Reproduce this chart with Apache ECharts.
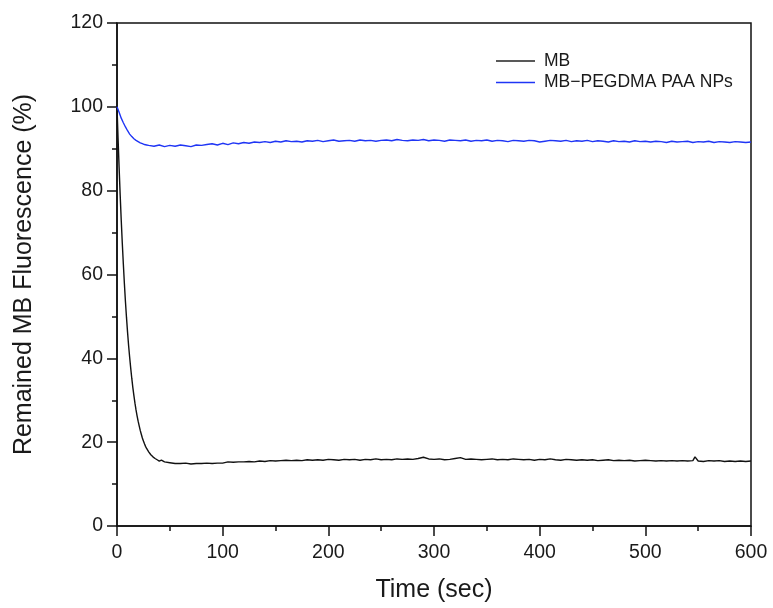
<!DOCTYPE html>
<html>
<head>
<meta charset="utf-8">
<script src="https://cdn.jsdelivr.net/npm/echarts@6/dist/echarts.min.js"></script>
<style>
html,body{margin:0;padding:0;background:#fff;}
#chart{width:773px;height:608px;}
</style>
</head>
<body>
<div id="chart"></div>
<script>
// ---- Data ----
const seriesNames = ['MB', 'MB\u2212PEGDMA PAA NPs'];
const xTicks = [0, 100, 200, 300, 400, 500, 600];
const yTicks = [0, 20, 40, 60, 80, 100, 120];

// MB: time (sec) and remained fluorescence (%)
const mbTime = [0,1,2,3,4,5,6,7,8,9,10,11,12,13,14,15,16,17,18,19,20,21,22,23,24,25,26,27,28,29,30,31,32,33,34,35,36,37,38,39,40,42,43,45,50,55,60,65,70,75,80,85,90,95,100,105,110,115,120,125,130,135,140,145,150,155,160,165,170,175,180,185,190,195,200,205,210,215,220,225,230,235,240,245,250,255,260,265,270,275,280,285,290,295,300,305,310,315,320,325,330,335,340,345,350,355,360,365,370,375,380,385,390,395,400,405,410,415,420,425,430,435,440,445,450,455,460,465,470,475,480,485,490,495,500,505,510,515,520,525,530,535,540,545,547,550,555,560,565,570,575,580,585,590,595,600];
const mbValue = [100,92.5,85.5,79,73,67.5,62.5,57.8,53.5,49.7,46.2,43,40.2,37.6,35.2,33,31.1,29.3,27.7,26.3,25,23.9,22.8,21.9,21,20.3,19.6,19,18.5,18.1,17.7,17.3,17,16.7,16.5,16.2,16.1,15.9,15.8,15.8,15.5,15.7,15.4,15.3,15.1,14.9,14.9,15.0,14.8,14.9,14.9,15.0,14.9,15.0,15.0,15.3,15.2,15.3,15.3,15.4,15.3,15.5,15.4,15.6,15.5,15.6,15.7,15.6,15.7,15.6,15.8,15.7,15.8,15.7,15.9,15.8,15.7,15.9,15.8,15.9,15.7,15.9,15.8,16.0,15.8,15.9,15.8,16.0,15.9,16.0,15.9,16.1,16.4,16.0,15.9,16.0,15.8,15.9,16.1,16.3,15.9,16.0,15.9,15.8,15.9,16.0,15.8,15.9,15.8,16.0,15.9,15.8,15.9,15.7,15.9,15.8,16.0,15.8,15.7,15.9,15.8,15.7,15.8,15.7,15.8,15.6,15.7,15.8,15.6,15.7,15.6,15.7,15.5,15.6,15.7,15.6,15.5,15.6,15.5,15.6,15.5,15.6,15.5,15.6,16.5,15.5,15.4,15.6,15.5,15.6,15.4,15.5,15.4,15.5,15.4,15.5];

// MB-PEGDMA PAA NPs
const npTime = [0,2,4,6,8,10,12,14,16,18,20,22,24,26,28,30,35,40,45,50,55,60,65,70,75,80,85,90,95,100,105,110,115,120,125,130,135,140,145,150,155,160,165,170,175,180,185,190,195,200,205,210,215,220,225,230,235,240,245,250,255,260,265,270,275,280,285,290,295,300,305,310,315,320,325,330,335,340,345,350,355,360,365,370,375,380,385,390,395,400,405,410,415,420,425,430,435,440,445,450,455,460,465,470,475,480,485,490,495,500,505,510,515,520,525,530,535,540,545,550,555,560,565,570,575,580,585,590,595,600];
const npValue = [100,98.7,97.3,96.2,95.2,94.3,93.5,92.9,92.4,92.0,91.7,91.4,91.2,91.0,90.9,90.8,90.6,90.9,90.5,90.8,90.6,90.9,90.7,90.5,90.9,90.8,91.0,91.2,90.9,91.3,91.0,91.4,91.2,91.5,91.3,91.6,91.5,91.7,91.5,91.8,91.6,91.9,91.7,91.8,91.6,91.9,91.8,92.0,91.7,91.9,92.1,91.8,91.9,92.0,91.8,92.1,91.9,92.0,91.8,92.0,92.1,91.9,92.2,92.0,91.9,92.1,92.0,92.2,91.9,92.1,92.0,91.8,92.1,92.0,91.9,92.1,91.8,92.0,91.9,92.1,91.8,92.0,91.9,91.7,92.0,91.9,91.8,92.0,91.9,91.6,91.8,92.0,91.9,91.8,92.0,91.7,91.9,91.8,92.0,91.7,91.9,91.8,91.6,91.9,91.7,91.8,91.6,91.9,91.7,91.8,91.6,91.8,91.7,91.5,91.8,91.6,91.7,91.8,91.5,91.7,91.6,91.8,91.5,91.7,91.6,91.5,91.7,91.6,91.5,91.6];

const mbData = mbTime.map((t, i) => [t, mbValue[i]]);
const npData = npTime.map((t, i) => [t, npValue[i]]);

const FONT = '"Liberation Sans", Arial, sans-serif';
const TXT = '#1a1a1a';

const chart = echarts.init(document.getElementById('chart'), null, {renderer: 'canvas'});
chart.setOption({
  animation: false,
  backgroundColor: '#ffffff',
  grid: {
    left: 117, right: 22, top: 23, bottom: 81,
    show: true, borderColor: '#111', borderWidth: 1.5, backgroundColor: 'transparent'
  },
  legend: {
    left: 496, top: 51, orient: 'vertical', padding: 0,
    icon: 'rect', itemWidth: 39, itemHeight: 1.5, itemGap: 1.5,
    textStyle: {fontFamily: FONT, fontSize: 17.5, color: TXT, lineHeight: 20, padding: [0, 0, 0, 4]},
    data: seriesNames
  },
  xAxis: {
    type: 'value', min: xTicks[0], max: xTicks[xTicks.length - 1], interval: 100,
    name: 'Time (sec)', nameLocation: 'middle', nameGap: 52,
    nameTextStyle: {fontFamily: FONT, fontSize: 25, color: TXT},
    axisLine: {show: true, lineStyle: {color: '#111', width: 1.5}},
    axisTick: {show: true, inside: false, length: 10, lineStyle: {color: '#111', width: 1.5}},
    minorTick: {show: true, splitNumber: 2, length: 5, lineStyle: {color: '#111', width: 1.5}},
    splitLine: {show: false},
    axisLabel: {fontFamily: FONT, fontSize: 19.5, color: TXT, margin: 17}
  },
  yAxis: {
    type: 'value', min: yTicks[0], max: yTicks[yTicks.length - 1], interval: 20,
    name: 'Remained MB Fluorescence (%)', nameLocation: 'middle', nameGap: 80,
    nameTextStyle: {fontFamily: FONT, fontSize: 25, color: TXT},
    axisLine: {show: true, lineStyle: {color: '#111', width: 1.5}},
    axisTick: {show: true, inside: false, length: 10, lineStyle: {color: '#111', width: 1.5}},
    minorTick: {show: true, splitNumber: 2, length: 5, lineStyle: {color: '#111', width: 1.5}},
    splitLine: {show: false},
    axisLabel: {fontFamily: FONT, fontSize: 19.5, color: TXT, margin: 14}
  },
  series: [
    {
      name: seriesNames[0], type: 'line', data: mbData, symbol: 'none',
      lineStyle: {color: '#111111', width: 1.4}, itemStyle: {color: '#222222'}
    },
    {
      name: seriesNames[1], type: 'line', data: npData, symbol: 'none',
      lineStyle: {color: '#1f35f5', width: 1.4}, itemStyle: {color: '#1f35f5'}
    }
  ]
});
</script>
</body>
</html>
